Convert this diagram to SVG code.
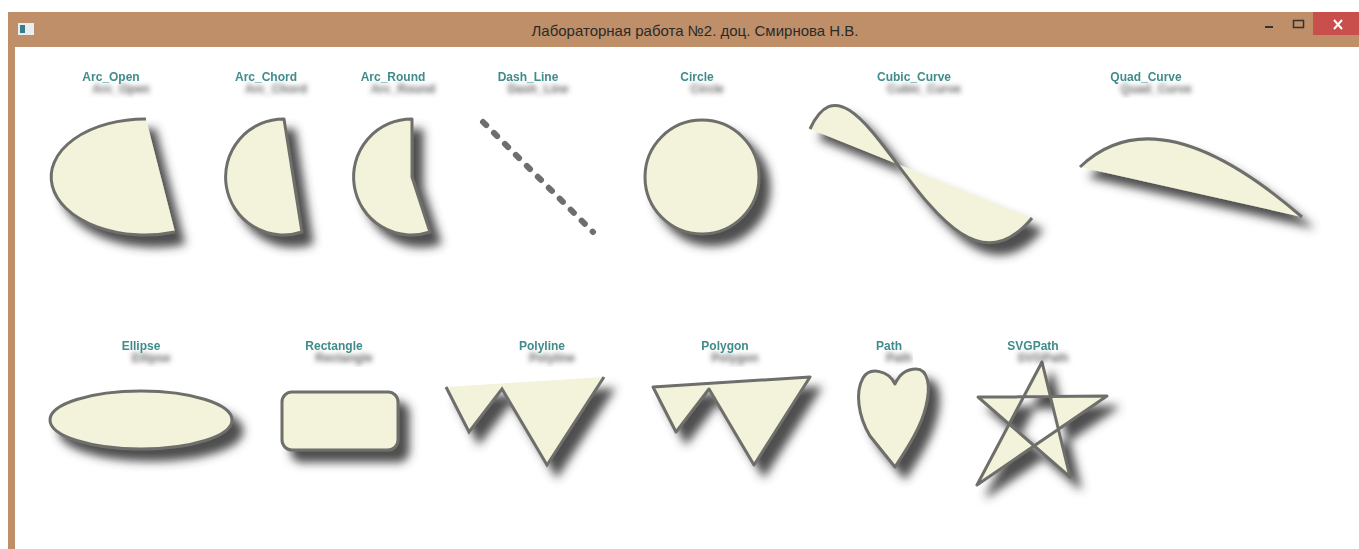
<svg xmlns="http://www.w3.org/2000/svg" width="1359" height="549" viewBox="0 0 1359 549">
<style>
.shape{fill:#F3F2DA;stroke:#6E6E6B;stroke-width:3;stroke-linejoin:round}
.nofill-stroke{fill:none;stroke:#6E6E6B;stroke-width:3;stroke-linecap:butt}
.fillonly{fill:#F3F2DA;stroke:none}
.lbl{font-family:"Liberation Sans",Arial,sans-serif;font-size:12px;font-weight:bold;fill:#3F8C8A;text-anchor:middle}
.title{font-family:"Liberation Sans",Arial,sans-serif;font-size:15px;fill:#2A2A2A;text-anchor:middle}
</style>
<defs>
<filter id="sh" x="-30%" y="-30%" width="170%" height="170%">
<feGaussianBlur in="SourceAlpha" stdDeviation="5"/>
<feOffset dx="10" dy="11" result="b"/>
<feFlood flood-color="#3a3a3a" flood-opacity="0.9"/>
<feComposite in2="b" operator="in"/>
<feMerge><feMergeNode/><feMergeNode in="SourceGraphic"/></feMerge>
</filter>
<filter id="tsh" x="-30%" y="-60%" width="170%" height="260%">
<feGaussianBlur in="SourceAlpha" stdDeviation="2.8"/>
<feOffset dx="10" dy="12" result="b"/>
<feFlood flood-color="#444" flood-opacity="0.8"/>
<feComposite in2="b" operator="in"/>
<feMerge><feMergeNode/><feMergeNode in="SourceGraphic"/></feMerge>
</filter>
</defs>
<rect x="0" y="0" width="1359" height="549" fill="#FFFFFF"/>
<g id="window-frame">
<rect x="8" y="12" width="1351" height="35" fill="#BF8F69"/>
<rect x="8" y="12" width="7" height="537" fill="#BF8F69"/>
<rect x="1313" y="12" width="46" height="23" fill="#C94F4C"/>
<path d="M1334,20 L1342,29 M1342,20 L1334,29" stroke="#FFFFFF" stroke-width="2"/>
<rect x="1265" y="26" width="8" height="2" fill="#333"/>
<rect x="1293.5" y="20.5" width="10" height="7" fill="none" stroke="#333" stroke-width="1.5"/>
<rect x="18" y="23" width="16" height="12" fill="#E8EEF0"/>
<rect x="20" y="25" width="5" height="8" fill="#3A7C8A"/>
<text class="title" x="695" y="36">Лабораторная работа №2. доц. Смирнова Н.В.</text>
</g>
<g id="arc-open">
<g filter="url(#sh)">
<path class="fillonly" d="M146,119 A94,58 0 1 0 175,232 Z"/>
<path class="nofill-stroke" d="M146,119 A94,58 0 1 0 175,232"/>
</g>
<text class="lbl" x="111" y="81" filter="url(#tsh)">Arc_Open</text>
</g>
<g id="arc-chord">
<path class="shape" filter="url(#sh)" d="M284,119 A58,58 0 1 0 302,232 Z"/>
<text class="lbl" x="266" y="81" filter="url(#tsh)">Arc_Chord</text>
</g>
<g id="arc-round">
<path class="shape" filter="url(#sh)" d="M412,119 A58,58 0 1 0 430,232 L412,177 Z"/>
<text class="lbl" x="393" y="81" filter="url(#tsh)">Arc_Round</text>
</g>
<g id="dash-line">
<line x1="483" y1="122" x2="593" y2="232" stroke="#6E6E6B" stroke-width="6" stroke-linecap="round" stroke-dasharray="4.5 11"/>
<text class="lbl" x="528" y="81" filter="url(#tsh)">Dash_Line</text>
</g>
<g id="circle">
<circle class="shape" filter="url(#sh)" cx="702" cy="177" r="57"/>
<text class="lbl" x="697" y="81" filter="url(#tsh)">Circle</text>
</g>
<g id="cubic-curve">
<g filter="url(#sh)">
<path class="fillonly" d="M810,129 C860,20 940,330 1032,218 Z"/>
<path class="nofill-stroke" d="M810,129 C860,20 940,330 1032,218"/>
</g>
<text class="lbl" x="914" y="81" filter="url(#tsh)">Cubic_Curve</text>
</g>
<g id="quad-curve">
<g filter="url(#sh)">
<path class="fillonly" d="M1080,167 Q1158,92 1302,217 Z"/>
<path class="nofill-stroke" d="M1080,167 Q1158,92 1302,217"/>
</g>
<text class="lbl" x="1146" y="81" filter="url(#tsh)">Quad_Curve</text>
</g>
<g id="ellipse">
<ellipse class="shape" filter="url(#sh)" cx="141" cy="420" rx="91" ry="29"/>
<text class="lbl" x="141" y="350" filter="url(#tsh)">Ellipse</text>
</g>
<g id="rectangle">
<rect class="shape" filter="url(#sh)" x="282" y="392" width="116" height="58" rx="10" ry="10"/>
<text class="lbl" x="334" y="350" filter="url(#tsh)">Rectangle</text>
</g>
<g id="polyline">
<g filter="url(#sh)">
<polygon class="fillonly" points="446,387 469,432 502,389 547,465 604,377"/>
<polyline class="nofill-stroke" points="446,387 469,432 502,389 547,465 604,377" stroke-linejoin="miter"/>
</g>
<text class="lbl" x="542" y="350" filter="url(#tsh)">Polyline</text>
</g>
<g id="polygon">
<polygon class="shape" filter="url(#sh)" points="653,387 676,432 709,389 754,465 810,377" stroke-linejoin="miter"/>
<text class="lbl" x="725" y="350" filter="url(#tsh)">Polygon</text>
</g>
<g id="path">
<path class="shape" filter="url(#sh)" d="M895,384 C889,371 870,366 863,378 C855,392 858,416 870,436 L895,467 C906,450 921,428 926,406 C931,386 928,369 916,369 C906,369 899,375 895,384 Z"/>
<text class="lbl" x="889" y="350" filter="url(#tsh)">Path</text>
</g>
<g id="svgpath">
<path class="shape" filter="url(#sh)" fill-rule="evenodd" stroke-linejoin="miter" d="M1042,362 L977,485 L1107,396 L978,397 L1070,477 Z"/>
<text class="lbl" x="1033" y="350" filter="url(#tsh)">SVGPath</text>
</g>
</svg>
